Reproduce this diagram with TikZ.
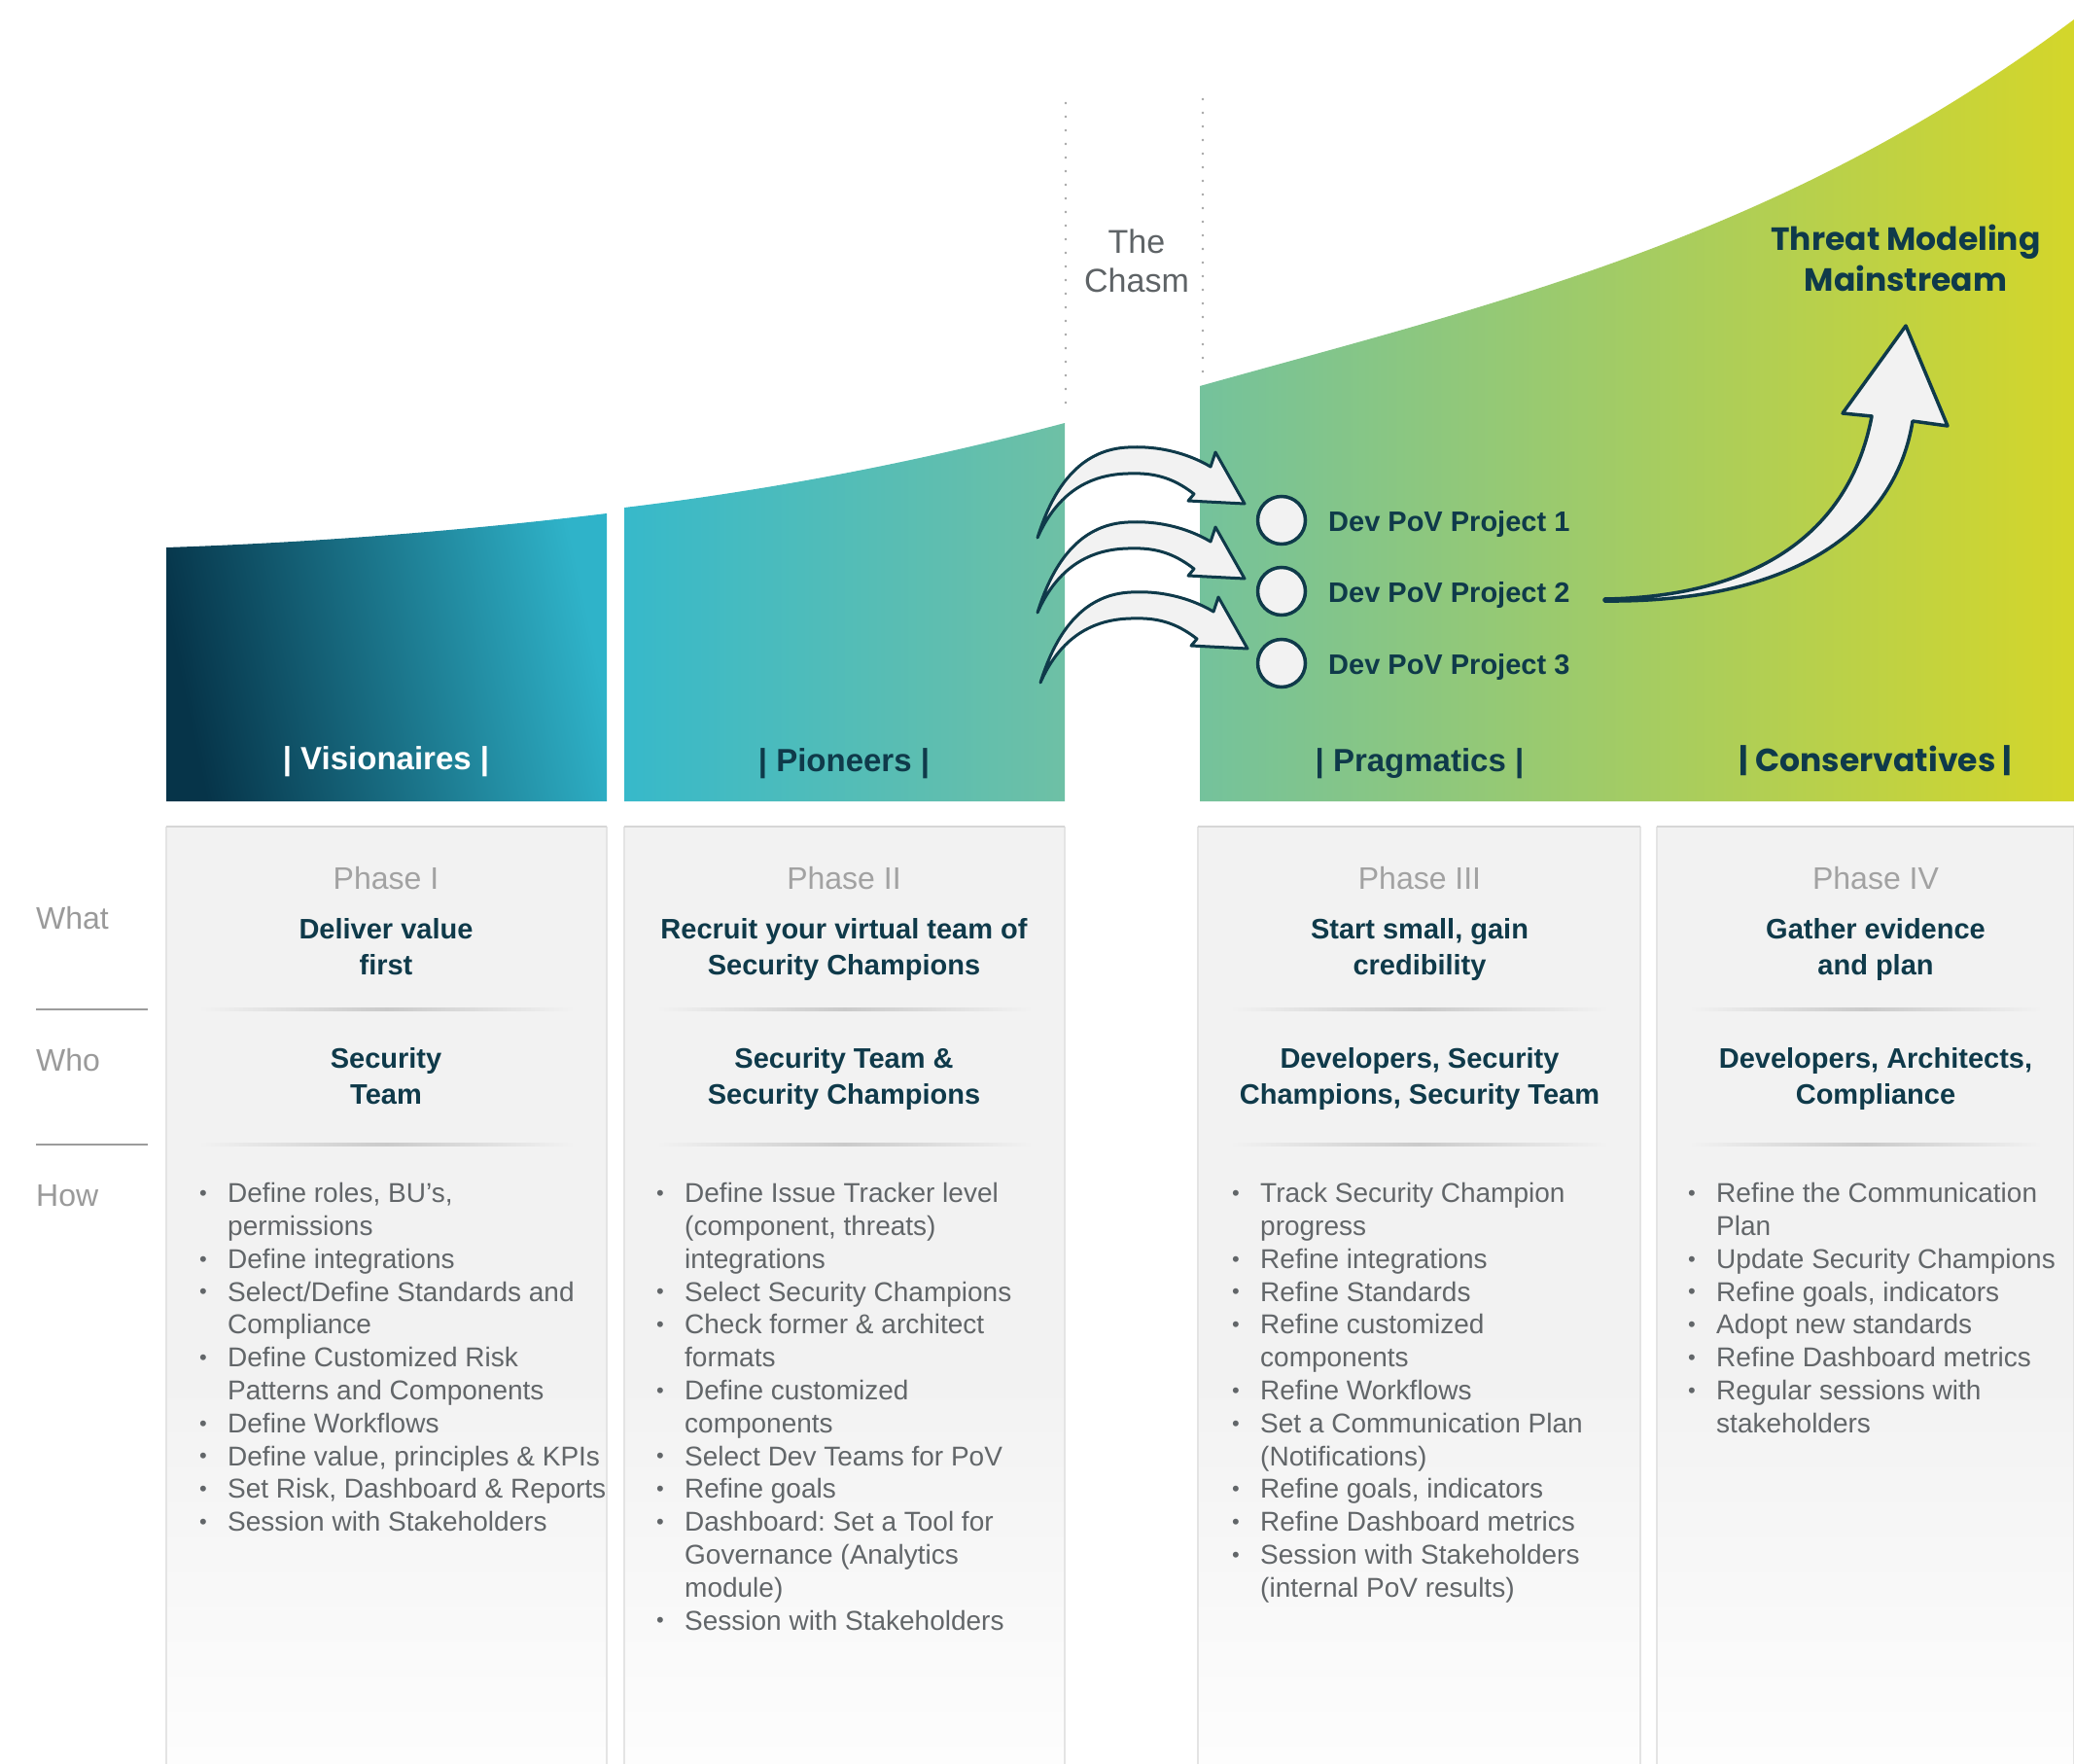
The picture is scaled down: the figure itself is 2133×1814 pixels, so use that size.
\documentclass[tikz,border=0pt]{standalone}
\usepackage{fontspec}
\setmainfont{Liberation Sans}
\newfontfamily\geofont{Poppins}
\usepackage{array}
\frenchspacing

\definecolor{dkteal}{HTML}{0F3A4A}
\definecolor{bodygray}{HTML}{626669}
\definecolor{rowgray}{HTML}{9A9A9A}
\definecolor{phasegray}{HTML}{A2A2A2}
\definecolor{chasmgray}{HTML}{5E6366}
\definecolor{dotgray}{HTML}{A5A5A5}
\definecolor{panelgray}{HTML}{F2F2F2}
\definecolor{panelfade}{HTML}{FDFDFD}
\definecolor{paneledge}{HTML}{D6D6D6}
\definecolor{panelside}{HTML}{E4E4E4}
\definecolor{sepgray}{HTML}{CACACA}
\definecolor{rowline}{HTML}{9C9C9C}
\definecolor{arrowfill}{HTML}{F2F2F2}
\definecolor{visA}{HTML}{063449}
\definecolor{visB}{HTML}{2FB3C9}
\definecolor{pioA}{HTML}{37B9CA}
\definecolor{pioB}{HTML}{6EC0A5}
\definecolor{praA}{HTML}{74C29C}
\definecolor{praB}{HTML}{A2C864}
\definecolor{praC}{HTML}{D4D62A}

% stacked lines, first baseline is the node baseline
\newcommand{\lines}[1]{\begin{tabular}[t]{@{}c@{}}#1\end{tabular}}
% bullet list, one row per printed line
\newcommand{\bul}{{\fontsize{22}{22}\selectfont\raisebox{2.2pt}{•}}}
\newcommand{\blist}[1]{\begin{tabular}[t]{@{}p{29pt}@{}l@{}}#1\end{tabular}}

\begin{document}
\begin{tikzpicture}[x=1pt,y=-1pt,
  bodytxt/.style={font=\fontsize{28}{33.8}\selectfont, text=bodygray, inner sep=0pt, anchor=base west},
  headtxt/.style={font=\bfseries\fontsize{29}{37}\selectfont, text=dkteal, inner sep=0pt, anchor=base},
  phasetxt/.style={font=\fontsize{32}{38}\selectfont, text=phasegray, inner sep=0pt, anchor=base},
  rowtxt/.style={font=\fontsize{32}{38}\selectfont, text=rowgray, inner sep=0pt, anchor=base west},
  grouplbl/.style={font=\bfseries\fontsize{33}{40}\selectfont, inner sep=0pt, anchor=base},
  devtxt/.style={font=\bfseries\fontsize{29}{35}\selectfont, text=dkteal, inner sep=0pt, anchor=base west},
  povcircle/.style={circle, draw=dkteal, line width=3.5pt, fill=arrowfill, minimum size=49pt, inner sep=0pt},
  blockarrow/.style={draw=dkteal, fill=arrowfill, line width=3pt, line join=round},
  chasmdots/.style={draw=dotgray, line width=2.6pt, line cap=round, dash pattern=on 0pt off 14pt},
  paneltop/.style={draw=paneledge, line width=2pt},
  panelsides/.style={draw=panelside, line width=1.3pt},
]
\useasboundingbox (0,0) rectangle (2133,1814);
\fill[white] (0,0) rectangle (2133,1814);

% ---------- adoption curve blocks ----------
\shade[left color=visA, right color=visB, shading angle=102]
  (171,824) -- (171,563) .. controls (321,558) and (474,546) .. (624,528) -- (624,824) -- cycle;
\shade[left color=pioA, right color=pioB]
  (642,824) -- (642,522) .. controls (792,504) and (945,475) .. (1095,435) -- (1095,824) -- cycle;
\shade[left color=praA, middle color=praB, right color=praC]
  (1234,824) -- (1234,397) .. controls (1534,313) and (1833,245) .. (2133,20) -- (2133,824) -- cycle;

% the chasm
\draw[chasmdots] (1096,106) -- (1096,418);
\draw[chasmdots] (1237,102) -- (1237,392);
\node[font=\fontsize{34}{40}\selectfont, text=chasmgray, inner sep=0pt, anchor=base] (chasm) at (1169,260) {\lines{The\\Chasm}};

% group labels
\node[grouplbl, text=white] (visionaires) at (397,791) {| Visionaires |};
\node[grouplbl, text=dkteal] (pioneers) at (868,793) {| Pioneers |};
\node[grouplbl, text=dkteal] (pragmatics) at (1460,793) {| Pragmatics |};
\node[grouplbl, text=dkteal, font=\geofont\bfseries\fontsize{33}{40}\selectfont] (conservatives) at (1929,793) {| Conservatives |};

\node[font=\geofont\bfseries\fontsize{33}{43}\selectfont, text=dkteal, inner sep=0pt, anchor=base] (mainstream) at (1960,257) {\lines{Threat Modeling\\Mainstream}};

% arrows across the chasm
\foreach \dx/\dy in {0/0, 0/77, 3/149} {
  \draw[blockarrow, shift={(\dx,\dy)}]
    (1067,553) .. controls (1085,495) and (1115,462) .. (1160,460)
    .. controls (1195,458) and (1225,468) .. (1245,480)
    -- (1250,465) -- (1280,518) -- (1222,515) -- (1228,508)
    .. controls (1205,490) and (1185,486) .. (1160,487)
    .. controls (1115,488) and (1085,512) .. (1067,553) -- cycle;
}

% PoV projects
\node[povcircle] (c1) at (1318,535) {};
\node[povcircle] (c2) at (1318,608) {};
\node[povcircle] (c3) at (1318,682) {};
\node[devtxt] (p1) at (1366,546) {Dev PoV Project 1};
\node[devtxt] (p2) at (1366,619) {Dev PoV Project 2};
\node[devtxt] (p3) at (1366,693) {Dev PoV Project 3};

% rising arrow to the mainstream
\draw[blockarrow, line width=3.5pt]
  (1650,616) .. controls (1790,614) and (1900,560) .. (1925,428)
  -- (1895,425) -- (1960,335) -- (2003,438) -- (1967,433)
  .. controls (1950,540) and (1850,620) .. (1650,618) -- cycle;

% ---------- phase panels ----------
\foreach \xa/\xb in {171/624, 642/1095, 1232/1687, 1704/2133} {
  \fill[panelgray] (\xa,850) rectangle (\xb,1420);
  \shade[top color=panelgray, bottom color=panelfade] (\xa,1419) rectangle (\xb,1814);
  \draw[panelsides] (\xa,1814) -- (\xa,850);
  \draw[panelsides] (\xb,850) -- (\xb,1814);
  \draw[paneltop] (\xa,850) -- (\xb,850);
  \shade[left color=panelgray, right color=panelgray, middle color=sepgray]
    (\xa+33,1036.5) rectangle (\xb-33,1039.5);
  \shade[left color=panelgray, right color=panelgray, middle color=sepgray]
    (\xa+33,1175.5) rectangle (\xb-33,1178.5);
}

% row labels
\node[rowtxt] (what) at (37,955) {What};
\node[rowtxt] (who) at (37,1101) {Who};
\node[rowtxt] (how) at (37,1240) {How};
\draw[rowline, line width=2.5pt] (37,1038) -- (152,1038);
\draw[rowline, line width=2.5pt] (37,1177) -- (152,1177);

% Phase I
\node[phasetxt] (ph1) at (397,914) {Phase I};
\node[headtxt] (what1) at (397,965) {\lines{Deliver value\\first}};
\node[headtxt] (who1) at (397,1098) {\lines{Security\\Team}};
\node[bodytxt] (how1) at (205,1236.6) {\blist{
  \bul & Define roles, BU’s,\\
       & permissions\\
  \bul & Define integrations\\
  \bul & Select/Define Standards and\\
       & Compliance\\
  \bul & Define Customized Risk\\
       & Patterns and Components\\
  \bul & Define Workflows\\
  \bul & Define value, principles \& KPIs\\
  \bul & Set Risk, Dashboard \& Reports\\
  \bul & Session with Stakeholders}};

% Phase II
\node[phasetxt] (ph2) at (868,914) {Phase II};
\node[headtxt] (what2) at (868,965) {\lines{Recruit your virtual team of\\Security Champions}};
\node[headtxt] (who2) at (868,1098) {\lines{Security Team \&\\Security Champions}};
\node[bodytxt] (how2) at (675,1236.6) {\blist{
  \bul & Define Issue Tracker level\\
       & (component, threats)\\
       & integrations\\
  \bul & Select Security Champions\\
  \bul & Check former \& architect\\
       & formats\\
  \bul & Define customized\\
       & components\\
  \bul & Select Dev Teams for PoV\\
  \bul & Refine goals\\
  \bul & Dashboard: Set a Tool for\\
       & Governance (Analytics\\
       & module)\\
  \bul & Session with Stakeholders}};

% Phase III
\node[phasetxt] (ph3) at (1460,914) {Phase III};
\node[headtxt] (what3) at (1460,965) {\lines{Start small, gain\\credibility}};
\node[headtxt] (who3) at (1460,1098) {\lines{Developers, Security\\Champions, Security Team}};
\node[bodytxt] (how3) at (1267,1236.6) {\blist{
  \bul & Track Security Champion\\
       & progress\\
  \bul & Refine integrations\\
  \bul & Refine Standards\\
  \bul & Refine customized\\
       & components\\
  \bul & Refine Workflows\\
  \bul & Set a Communication Plan\\
       & (Notifications)\\
  \bul & Refine goals, indicators\\
  \bul & Refine Dashboard metrics\\
  \bul & Session with Stakeholders\\
       & (internal PoV results)}};

% Phase IV
\node[phasetxt] (ph4) at (1929,914) {Phase IV};
\node[headtxt] (what4) at (1929,965) {\lines{Gather evidence\\and plan}};
\node[headtxt] (who4) at (1929,1098) {\lines{Developers, Architects,\\Compliance}};
\node[bodytxt] (how4) at (1736,1236.6) {\blist{
  \bul & Refine the Communication\\
       & Plan\\
  \bul & Update Security Champions\\
  \bul & Refine goals, indicators\\
  \bul & Adopt new standards\\
  \bul & Refine Dashboard metrics\\
  \bul & Regular sessions with\\
       & stakeholders}};

\end{tikzpicture}
\end{document}
